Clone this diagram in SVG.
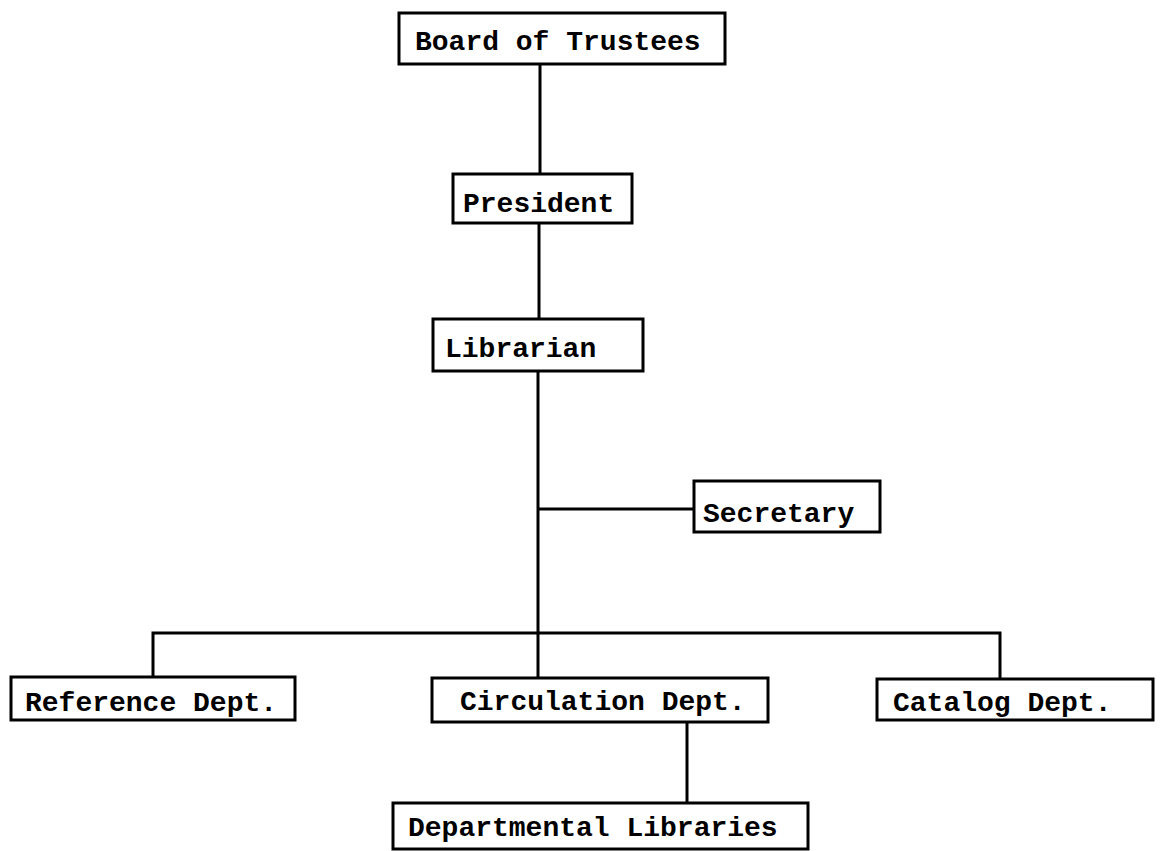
<svg xmlns="http://www.w3.org/2000/svg" width="1163" height="851" viewBox="0 0 1163 851">
<style>
  .box { fill: #ffffff; stroke: #000000; stroke-width: 3; }
  .lbl { font-family: "Liberation Mono", "Courier New", monospace; font-size: 28px; font-weight: bold; fill: #000000; }
  .conn { fill: none; stroke: #000000; stroke-width: 3; }
</style>
<rect x="0" y="0" width="1163" height="851" fill="#ffffff"/>
<g id="connectors">
  <line class="conn" x1="540" y1="64" x2="540" y2="174"/>
  <line class="conn" x1="539" y1="223" x2="539" y2="319"/>
  <line class="conn" x1="538" y1="371" x2="538" y2="678"/>
  <line class="conn" x1="538" y1="509" x2="694" y2="509"/>
  <polyline class="conn" points="153,677 153,633 1000,633 1000,679"/>
  <line class="conn" x1="687" y1="722" x2="687" y2="803"/>
</g>
<g id="board">
  <rect class="box" x="399" y="13" width="326" height="51"/>
  <text class="lbl" x="415" y="50">Board of Trustees</text>
</g>
<g id="president">
  <rect class="box" x="453" y="174" width="179" height="49"/>
  <text class="lbl" x="463" y="212">President</text>
</g>
<g id="librarian">
  <rect class="box" x="433" y="319" width="210" height="52"/>
  <text class="lbl" x="445" y="357">Librarian</text>
</g>
<g id="secretary">
  <rect class="box" x="694" y="481" width="186" height="51"/>
  <text class="lbl" x="703" y="522">Secretary</text>
</g>
<g id="reference">
  <rect class="box" x="11" y="677" width="284" height="43"/>
  <text class="lbl" x="25" y="711">Reference Dept.</text>
</g>
<g id="circulation">
  <rect class="box" x="432" y="678" width="336" height="44"/>
  <text class="lbl" x="460" y="710">Circulation Dept.</text>
</g>
<g id="catalog">
  <rect class="box" x="877" y="679" width="276" height="41"/>
  <text class="lbl" x="893" y="711">Catalog Dept.</text>
</g>
<g id="departmental">
  <rect class="box" x="393" y="803" width="415" height="46"/>
  <text class="lbl" x="408" y="836">Departmental Libraries</text>
</g>
</svg>
